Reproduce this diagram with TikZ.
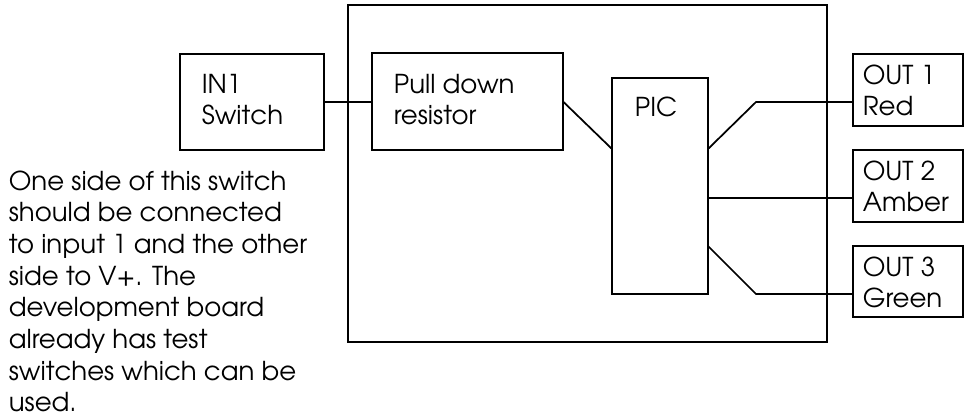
\documentclass[tikz,border=0pt]{standalone}
\usepackage{fontspec}
\setmainfont{TeX Gyre Adventor}
\usetikzlibrary{calc}
\begin{document}
\begin{tikzpicture}[x=0.75pt,y=-0.75pt,line width=1.3pt,
  box/.style={draw,rectangle,inner sep=0pt,outer sep=0pt,anchor=north west},
  lbl/.style={anchor=base west,inner sep=0pt,font=\fontsize{19.5}{23.75}\selectfont},
  para/.style={anchor=base west,inner sep=0pt,font=\fontsize{19.5}{23.75}\selectfont}]
\useasboundingbox (0,0) rectangle (965,418);
% boxes
\node[box,minimum width={479*0.75pt},minimum height={337*0.75pt}] (board) at (348,5) {};
\node[box,minimum width={144*0.75pt},minimum height={96*0.75pt}] (in1) at (180,54) {};
\node[box,minimum width={191*0.75pt},minimum height={97*0.75pt}] (pull) at (372,53) {};
\node[box,minimum width={96*0.75pt},minimum height={216*0.75pt}] (pic) at (612,78) {};
\node[box,minimum width={110*0.75pt},minimum height={72*0.75pt}] (out1) at (853,54) {};
\node[box,minimum width={110*0.75pt},minimum height={72*0.75pt}] (out2) at (853,150) {};
\node[box,minimum width={110*0.75pt},minimum height={71*0.75pt}] (out3) at (853,246) {};
% labels
\node[lbl] (tin1) at (201,93) {\begin{tabular}[t]{@{}l@{}}IN1\\Switch\end{tabular}};
\node[lbl] (tpull) at (393,93) {\begin{tabular}[t]{@{}l@{}}Pull down\\resistor\end{tabular}};
\node[lbl] (tpic) at (634,116) {PIC};
\node[lbl] (tout1) at (862,84) {\begin{tabular}[t]{@{}l@{}}OUT 1\\Red\end{tabular}};
\node[lbl] (tout2) at (862,180) {\begin{tabular}[t]{@{}l@{}}OUT 2\\Amber\end{tabular}};
\node[lbl] (tout3) at (862,276) {\begin{tabular}[t]{@{}l@{}}OUT 3\\Green\end{tabular}};
\node[para] (note) at (8,190) {\begin{tabular}[t]{@{}l@{}}One side of this switch\\should be connected\\to input 1 and the other\\side to V+. The\\development board\\already has test\\switches which can be\\used.\end{tabular}};
% connectors
\coordinate (pin) at ($(pic.north west)+(0,71)$);
\coordinate (p1) at ($(pic.north east)+(0,71)$);
\coordinate (p2) at ($(pic.north east)+(0,120)$);
\coordinate (p3) at ($(pic.north east)+(0,168)$);
\draw (in1.east) -- (in1.east -| pull.west);
\draw (pull.east) -- (pin);
\draw (p1) -- ++(48,-47) coordinate (k1) -- (k1 -| out1.west);
\draw (p2) -- (p2 -| out2.west);
\draw (p3) -- ++(48,48) coordinate (k3) -- (k3 -| out3.west);
\end{tikzpicture}
\end{document}
